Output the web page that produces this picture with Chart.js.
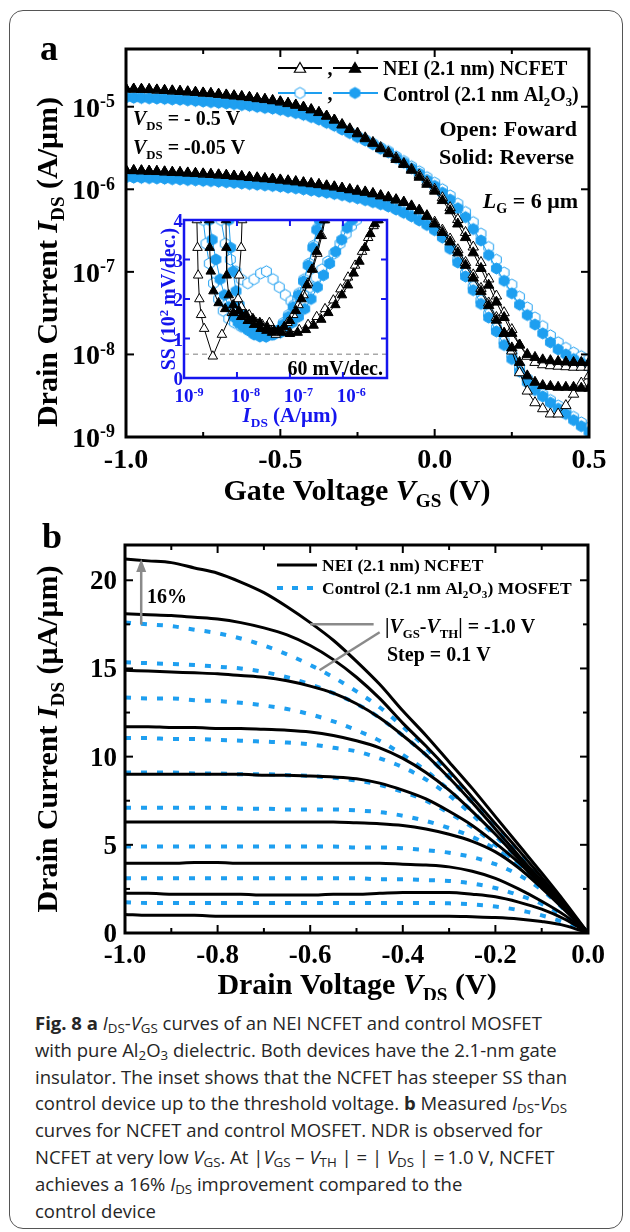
<!DOCTYPE html>
<html lang="en">
<head>
<meta charset="UTF-8">
<meta name="viewport" content="width=630">
<title>Fig. 8 — NEI NCFET and control MOSFET</title>
<script src="https://cdn.jsdelivr.net/npm/chart.js"></script>
<style>
  html, body { margin: 0; padding: 0; background: #fff; }
  #page { position: relative; width: 630px; height: 1232px; overflow: hidden; }
  #frame { position: absolute; left: 9px; top: 10px; width: 614px; height: 1219px; box-sizing: border-box;
           border: 1.5px solid #555; border-radius: 14px; }
  canvas { position: absolute; }
  #ivChart { left: 0; top: 0; }
  #ssChart { left: 100px; top: 200px; }
  #outChart { left: 0; top: 520px; }
  .caption { position: absolute; left: 35px; top: 1010px; font-family: "Open Sans", sans-serif;
             font-size: 18.5px; line-height: 26.8px; color: #262626; white-space: nowrap; }
  .caption sub { font-size: 0.72em; line-height: 0; vertical-align: -0.22em; }
</style>
</head>
<body>
<div id="page">
  <div id="frame"></div>
  <canvas id="ivChart" width="630" height="520"></canvas>
  <canvas id="ssChart" width="300" height="240"></canvas>
  <canvas id="outChart" width="630" height="480"></canvas>
  <div class="caption">
    <div><b>Fig. 8 a</b> <i>I</i><sub>DS</sub>-<i>V</i><sub>GS</sub> curves of an NEI NCFET and control MOSFET</div>
    <div>with pure Al<sub>2</sub>O<sub>3</sub> dielectric. Both devices have the 2.1-nm gate</div>
    <div>insulator. The inset shows that the NCFET has steeper SS than</div>
    <div>control device up to the threshold voltage. <b>b</b> Measured <i>I</i><sub>DS</sub>-<i>V</i><sub>DS</sub></div>
    <div>curves for NCFET and control MOSFET. NDR is observed for</div>
    <div>NCFET at very low <i>V</i><sub>GS</sub>. At |<i>V</i><sub>GS</sub> – <i>V</i><sub>TH</sub> | = | <i>V</i><sub>DS</sub> | =&#8201;1.0 V, NCFET</div>
    <div>achieves a 16% <i>I</i><sub>DS</sub> improvement compared to the</div>
    <div>control device</div>
  </div>
</div>

<script>
// ---------- (a) transfer curves, I_DS in A/um ----------
const vgs = [-1.0, -0.975, -0.95, -0.925, -0.9, -0.875, -0.85, -0.825, -0.8, -0.775,
  -0.75, -0.725, -0.7, -0.675, -0.65, -0.625, -0.6, -0.575, -0.55, -0.525,
  -0.5, -0.475, -0.45, -0.425, -0.4, -0.375, -0.35, -0.325, -0.3, -0.275,
  -0.25, -0.225, -0.2, -0.175, -0.15, -0.125, -0.1, -0.075, -0.05, -0.025,
  0, 0.025, 0.05, 0.075, 0.1, 0.125, 0.15, 0.175, 0.2, 0.225,
  0.25, 0.275, 0.3, 0.325, 0.35, 0.375, 0.4, 0.425, 0.45, 0.475, 0.5];

// NCFET, reverse sweep (solid), V_DS = -0.5 V
const ncRevHigh = [1.65e-5, 1.64e-5, 1.63e-5, 1.62e-5, 1.6e-5, 1.58e-5, 1.56e-5, 1.54e-5, 1.52e-5, 1.5e-5,
  1.47e-5, 1.45e-5, 1.42e-5, 1.39e-5, 1.36e-5, 1.33e-5, 1.3e-5, 1.26e-5, 1.23e-5, 1.19e-5,
  1.15e-5, 1.1e-5, 1.05e-5, 9.9e-6, 9.2e-6, 8.5e-6, 7.7e-6, 6.9e-6, 6.0e-6, 5.3e-6,
  4.7e-6, 4.1e-6, 3.6e-6, 3.1e-6, 2.7e-6, 2.3e-6, 2.0e-6, 1.7e-6, 1.4e-6, 1.15e-6,
  9.5e-7, 7.3e-7, 5.5e-7, 3.8e-7, 2.6e-7, 1.7e-7, 1.1e-7, 6.9e-8, 4.3e-8, 2.8e-8,
  1.8e-8, 1.3e-8, 1.0e-8, 9.2e-9, 8.6e-9, 8.4e-9, 8.2e-9, 8.1e-9, 8.0e-9, 8.0e-9, 8.0e-9];
// NCFET, forward sweep (open), V_DS = -0.5 V
const ncFwdHigh = [1.64e-5, 1.63e-5, 1.62e-5, 1.61e-5, 1.59e-5, 1.57e-5, 1.55e-5, 1.53e-5, 1.51e-5, 1.49e-5,
  1.46e-5, 1.44e-5, 1.41e-5, 1.38e-5, 1.35e-5, 1.32e-5, 1.29e-5, 1.25e-5, 1.22e-5, 1.18e-5,
  1.14e-5, 1.09e-5, 1.04e-5, 9.8e-6, 9.2e-6, 8.5e-6, 7.7e-6, 6.9e-6, 6.1e-6, 5.4e-6,
  4.8e-6, 4.2e-6, 3.7e-6, 3.2e-6, 2.8e-6, 2.4e-6, 2.05e-6, 1.75e-6, 1.48e-6, 1.22e-6,
  1.0e-6, 7.9e-7, 6.0e-7, 4.3e-7, 3.0e-7, 2.0e-7, 1.3e-7, 8.2e-8, 5.1e-8, 3.2e-8,
  2.0e-8, 1.3e-8, 9.5e-9, 8.0e-9, 7.5e-9, 7.3e-9, 7.2e-9, 7.1e-9, 7.0e-9, 7.0e-9, 7.0e-9];
// NCFET, reverse, V_DS = -0.05 V
const ncRevLow = [1.7e-6, 1.69e-6, 1.68e-6, 1.66e-6, 1.65e-6, 1.63e-6, 1.61e-6, 1.6e-6, 1.58e-6, 1.56e-6,
  1.54e-6, 1.52e-6, 1.5e-6, 1.48e-6, 1.45e-6, 1.43e-6, 1.4e-6, 1.38e-6, 1.35e-6, 1.33e-6,
  1.3e-6, 1.27e-6, 1.24e-6, 1.2e-6, 1.17e-6, 1.14e-6, 1.1e-6, 1.07e-6, 1.03e-6, 9.9e-7,
  9.5e-7, 9.2e-7, 8.8e-7, 8.3e-7, 7.9e-7, 7.4e-7, 6.9e-7, 6.2e-7, 5.5e-7, 4.7e-7,
  3.8e-7, 3.0e-7, 2.3e-7, 1.7e-7, 1.2e-7, 8.4e-8, 5.8e-8, 3.9e-8, 2.6e-8, 1.8e-8,
  1.2e-8, 8.0e-9, 5.5e-9, 4.6e-9, 4.2e-9, 4.1e-9, 4.0e-9, 4.0e-9, 4.0e-9, 3.9e-9, 3.9e-9];
// NCFET, forward, V_DS = -0.05 V
const ncFwdLow = [1.69e-6, 1.68e-6, 1.67e-6, 1.65e-6, 1.64e-6, 1.62e-6, 1.6e-6, 1.59e-6, 1.57e-6, 1.55e-6,
  1.53e-6, 1.51e-6, 1.49e-6, 1.47e-6, 1.44e-6, 1.42e-6, 1.39e-6, 1.37e-6, 1.34e-6, 1.32e-6,
  1.29e-6, 1.26e-6, 1.23e-6, 1.2e-6, 1.17e-6, 1.14e-6, 1.1e-6, 1.07e-6, 1.03e-6, 9.9e-7,
  9.6e-7, 9.3e-7, 8.9e-7, 8.4e-7, 8.0e-7, 7.5e-7, 7.0e-7, 6.3e-7, 5.6e-7, 4.8e-7,
  4.0e-7, 3.2e-7, 2.5e-7, 1.85e-7, 1.3e-7, 9.2e-8, 6.3e-8, 4.2e-8, 2.8e-8, 1.8e-8,
  1.1e-8, 6.0e-9, 3.6e-9, 2.6e-9, 2.2e-9, 1.9e-9, 1.9e-9, 2.4e-9, 3.3e-9, 4.5e-9, 5.5e-9];
// control Al2O3 MOSFET, reverse, V_DS = -0.5 V
const ctRevHigh = [1.3e-5, 1.29e-5, 1.28e-5, 1.27e-5, 1.26e-5, 1.25e-5, 1.23e-5, 1.22e-5, 1.2e-5, 1.18e-5,
  1.16e-5, 1.14e-5, 1.12e-5, 1.1e-5, 1.08e-5, 1.05e-5, 1.03e-5, 1.0e-5, 9.7e-6, 9.5e-6,
  9.2e-6, 8.8e-6, 8.4e-6, 8.0e-6, 7.5e-6, 7.0e-6, 6.4e-6, 5.9e-6, 5.3e-6, 4.8e-6,
  4.3e-6, 3.9e-6, 3.5e-6, 3.1e-6, 2.8e-6, 2.4e-6, 2.1e-6, 1.8e-6, 1.55e-6, 1.3e-6,
  1.1e-6, 9.1e-7, 7.5e-7, 5.9e-7, 4.6e-7, 3.3e-7, 2.4e-7, 1.6e-7, 1.1e-7, 7.8e-8,
  5.5e-8, 4.0e-8, 3.0e-8, 2.3e-8, 1.8e-8, 1.4e-8, 1.15e-8, 1.0e-8, 8.8e-9, 7.9e-9, 7.2e-9];
// control, forward, V_DS = -0.5 V
const ctFwdHigh = [1.31e-5, 1.3e-5, 1.29e-5, 1.28e-5, 1.27e-5, 1.26e-5, 1.24e-5, 1.23e-5, 1.21e-5, 1.19e-5,
  1.17e-5, 1.15e-5, 1.13e-5, 1.11e-5, 1.09e-5, 1.06e-5, 1.04e-5, 1.01e-5, 9.8e-6, 9.6e-6,
  9.3e-6, 8.9e-6, 8.5e-6, 8.1e-6, 7.6e-6, 7.1e-6, 6.5e-6, 6.0e-6, 5.4e-6, 4.9e-6,
  4.4e-6, 4.0e-6, 3.6e-6, 3.2e-6, 2.9e-6, 2.5e-6, 2.2e-6, 1.9e-6, 1.65e-6, 1.4e-6,
  1.2e-6, 1.0e-6, 8.4e-7, 6.7e-7, 5.3e-7, 4.0e-7, 2.9e-7, 2.0e-7, 1.4e-7, 9.8e-8,
  7.0e-8, 5.0e-8, 3.7e-8, 2.8e-8, 2.2e-8, 1.7e-8, 1.4e-8, 1.2e-8, 1.05e-8, 9.5e-9, 8.8e-9];
// control, reverse, V_DS = -0.05 V
const ctRevLow = [1.4e-6, 1.39e-6, 1.38e-6, 1.37e-6, 1.36e-6, 1.35e-6, 1.33e-6, 1.32e-6, 1.3e-6, 1.29e-6,
  1.27e-6, 1.26e-6, 1.24e-6, 1.22e-6, 1.2e-6, 1.18e-6, 1.16e-6, 1.14e-6, 1.12e-6, 1.1e-6,
  1.08e-6, 1.05e-6, 1.03e-6, 1.0e-6, 9.7e-7, 9.4e-7, 9.1e-7, 8.8e-7, 8.5e-7, 8.1e-7,
  7.8e-7, 7.4e-7, 7.0e-7, 6.6e-7, 6.2e-7, 5.7e-7, 5.2e-7, 4.7e-7, 4.2e-7, 3.7e-7,
  3.2e-7, 2.6e-7, 1.9e-7, 1.3e-7, 8.8e-8, 6.0e-8, 4.1e-8, 2.8e-8, 1.9e-8, 1.3e-8,
  8.8e-9, 6.2e-9, 4.6e-9, 3.7e-9, 3.1e-9, 2.6e-9, 2.2e-9, 1.9e-9, 1.6e-9, 1.35e-9, 1.15e-9];
// control, forward, V_DS = -0.05 V
const ctFwdLow = [1.41e-6, 1.4e-6, 1.39e-6, 1.38e-6, 1.37e-6, 1.36e-6, 1.34e-6, 1.33e-6, 1.31e-6, 1.3e-6,
  1.28e-6, 1.27e-6, 1.25e-6, 1.23e-6, 1.21e-6, 1.19e-6, 1.17e-6, 1.15e-6, 1.13e-6, 1.11e-6,
  1.09e-6, 1.06e-6, 1.04e-6, 1.01e-6, 9.8e-7, 9.5e-7, 9.2e-7, 8.9e-7, 8.6e-7, 8.2e-7,
  7.9e-7, 7.5e-7, 7.1e-7, 6.7e-7, 6.3e-7, 5.8e-7, 5.3e-7, 4.8e-7, 4.3e-7, 3.8e-7,
  3.3e-7, 2.7e-7, 2.0e-7, 1.4e-7, 9.6e-8, 6.6e-8, 4.5e-8, 3.1e-8, 2.1e-8, 1.45e-8,
  1.0e-8, 7.0e-9, 5.1e-9, 4.0e-9, 3.3e-9, 2.8e-9, 2.4e-9, 2.0e-9, 1.75e-9, 1.5e-9, 1.3e-9];

const vgsMajor = [-1, -0.5, 0, 0.5];
const vgsLabels = ['-1.0', '-0.5', '0.0', '0.5'];
const vgsMinor = [-0.75, -0.25, 0.25];
const idsDecades = [1e-9, 1e-8, 1e-7, 1e-6, 1e-5];
const idsExponents = ['-9', '-8', '-7', '-6', '-5'];

// ---------- inset: SS (x100 mV/dec) against I_DS ----------
const ssNcFwdLow = [[1.75e-9, 4.0], [1.8e-9, 3.3], [1.85e-9, 2.6], [1.95e-9, 2.0], [2.1e-9, 1.6], [2.4e-9, 1.25],
  [3.5e-9, 0.55], [5.2e-9, 1.1], [8e-9, 1.65], [1.2e-8, 1.8], [1.7e-8, 1.6], [2.3e-8, 1.4], [3.1e-8, 1.25],
  [4.1e-8, 1.4], [5.4e-8, 1.1], [7e-8, 1.2], [9e-8, 1.4], [1.15e-7, 1.6], [1.45e-7, 1.85], [1.8e-7, 2.1],
  [2.2e-7, 2.4], [2.7e-7, 2.75], [3.3e-7, 3.15], [4e-7, 3.6], [4.6e-7, 4.0]];
const ssNcRevLow = [[3.0e-9, 4.0], [3.05e-9, 3.3], [3.2e-9, 2.7], [3.6e-9, 2.2], [4.5e-9, 1.9], [6e-9, 1.75],
  [8.5e-9, 1.65], [1.2e-8, 1.55], [1.6e-8, 1.45], [2.1e-8, 1.35], [2.8e-8, 1.25], [3.6e-8, 1.2], [4.6e-8, 1.15],
  [6e-8, 1.2], [7.8e-8, 1.3], [1.0e-7, 1.45], [1.3e-7, 1.7], [1.65e-7, 2.0], [2.1e-7, 2.35], [2.6e-7, 2.75],
  [3.2e-7, 3.2], [3.8e-7, 3.6], [4.4e-7, 4.0]];
const ssNcFwdHigh = [[1.25e-8, 4.0], [1.2e-8, 3.3], [1.1e-8, 2.6], [1.05e-8, 2.0], [1.1e-8, 1.7], [1.4e-8, 1.55],
  [2e-8, 1.45], [3e-8, 1.35], [4.5e-8, 1.3], [7e-8, 1.2], [1.0e-7, 1.15], [1.5e-7, 1.22], [2.2e-7, 1.35],
  [3.2e-7, 1.55], [4.6e-7, 1.75], [6.6e-7, 1.97], [9e-7, 2.25], [1.25e-6, 2.55], [1.7e-6, 2.85],
  [2.3e-6, 3.2], [3.0e-6, 3.55], [3.8e-6, 3.85], [4.4e-6, 4.0]];
const ssNcRevHigh = [[6.2e-9, 4.0], [6.3e-9, 3.3], [6.4e-9, 2.6], [7e-9, 2.1], [8.5e-9, 1.85], [1.1e-8, 1.7],
  [1.5e-8, 1.6], [2e-8, 1.5], [2.7e-8, 1.4], [3.7e-8, 1.3], [5e-8, 1.2], [7e-8, 1.15], [1e-7, 1.12],
  [1.4e-7, 1.15], [2e-7, 1.22], [2.8e-7, 1.33], [3.9e-7, 1.48], [5.3e-7, 1.65], [7.2e-7, 1.85],
  [9.6e-7, 2.1], [1.25e-6, 2.35], [1.6e-6, 2.65], [2.05e-6, 2.95], [2.6e-6, 3.3], [3.3e-6, 3.65],
  [4.0e-6, 3.9], [4.7e-6, 4.0]];
const ssCtFwdLow = [[2.3e-9, 4.0], [2.6e-9, 3.4], [3.0e-9, 2.9], [3.6e-9, 2.4], [4.5e-9, 2.0], [5.5e-9, 1.7],
  [7e-9, 1.5], [9e-9, 1.4], [1.2e-8, 1.3], [1.6e-8, 1.25], [2.1e-8, 1.15], [2.8e-8, 1.1], [3.6e-8, 1.05],
  [4.7e-8, 1.1], [6e-8, 1.2], [7.6e-8, 1.4], [9.5e-8, 1.6], [1.2e-7, 1.85], [1.5e-7, 2.15], [1.85e-7, 2.5],
  [2.3e-7, 2.9], [2.8e-7, 3.35], [3.4e-7, 3.8], [3.8e-7, 4.0]];
const ssCtRevLow = [[3.0e-9, 4.0], [3.4e-9, 3.5], [4.0e-9, 3.0], [4.8e-9, 2.5], [5.8e-9, 2.1], [7e-9, 1.8],
  [8.6e-9, 1.55], [1.05e-8, 1.4], [1.3e-8, 1.3], [1.65e-8, 1.2], [2.1e-8, 1.1], [2.7e-8, 1.05], [3.5e-8, 1.05],
  [4.5e-8, 1.1], [5.8e-8, 1.2], [7.4e-8, 1.35], [9.3e-8, 1.55], [1.15e-7, 1.8], [1.45e-7, 2.1], [1.8e-7, 2.45],
  [2.2e-7, 2.85], [2.7e-7, 3.3], [3.2e-7, 3.75], [3.6e-7, 4.0]];
const ssCtFwdHigh = [[5e-9, 4.0], [6e-9, 3.4], [7.5e-9, 3.0], [9.5e-9, 2.7], [1.2e-8, 2.5], [1.6e-8, 2.4],
  [2.1e-8, 2.5], [2.8e-8, 2.65], [3.6e-8, 2.7], [4.8e-8, 2.5], [6.3e-8, 2.3], [8.2e-8, 2.1], [1.05e-7, 1.95],
  [1.4e-7, 2.0], [1.8e-7, 2.1], [2.4e-7, 2.3], [3.1e-7, 2.55], [4e-7, 2.75], [5.2e-7, 2.95], [6.8e-7, 3.15],
  [8.8e-7, 3.4], [1.15e-6, 3.65], [1.45e-6, 3.85], [1.8e-6, 4.0]];
const ssCtRevHigh = [[7e-9, 4.0], [7.6e-9, 3.3], [8.4e-9, 2.7], [9.6e-9, 2.2], [1.1e-8, 1.85], [1.35e-8, 1.6],
  [1.7e-8, 1.4], [2.2e-8, 1.25], [2.9e-8, 1.15], [3.8e-8, 1.1], [5e-8, 1.1], [6.6e-8, 1.15], [8.6e-8, 1.25],
  [1.1e-7, 1.4], [1.45e-7, 1.55], [1.9e-7, 1.75], [2.5e-7, 2.0], [3.3e-7, 2.3], [4.3e-7, 2.6], [5.6e-7, 2.9],
  [7.3e-7, 3.2], [9.5e-7, 3.5], [1.2e-6, 3.8], [1.5e-6, 4.0]];

const ssDecades = [1e-9, 1e-8, 1e-7, 1e-6];
const ssExponents = ['-9', '-8', '-7', '-6'];
const ssTicks = [0, 1, 2, 3, 4];
const ssIdeal = 0.6;   // 60 mV/dec

// ---------- (b) output curves, I_DS in uA/um ----------
const vds = [-1.0, -0.95, -0.9, -0.85, -0.8, -0.75, -0.7, -0.65, -0.6, -0.55, -0.5,
  -0.45, -0.4, -0.35, -0.3, -0.25, -0.2, -0.15, -0.1, -0.05, 0];
// NCFET, |V_GS - V_TH| = 1.0 V down in 0.1 V steps
const ncfetOutput = [
  [21.2, 21.1, 21.0, 20.7, 20.4, 19.9, 19.3, 18.5, 17.6, 16.6, 15.4, 14.1, 12.6, 11.2, 9.7, 8.2, 6.6, 5.0, 3.4, 1.75, 0],
  [18.1, 18.05, 18.0, 17.9, 17.8, 17.6, 17.3, 16.9, 16.3, 15.5, 14.5, 13.3, 11.9, 10.6, 9.2, 7.7, 6.2, 4.7, 3.15, 1.6, 0],
  [14.9, 14.85, 14.8, 14.75, 14.7, 14.6, 14.5, 14.3, 14.0, 13.6, 13.0, 12.2, 11.2, 10.1, 8.8, 7.4, 5.9, 4.4, 2.95, 1.5, 0],
  [11.7, 11.7, 11.65, 11.65, 11.6, 11.6, 11.55, 11.5, 11.4, 11.2, 10.9, 10.5, 9.9, 9.1, 8.1, 6.9, 5.6, 4.2, 2.8, 1.42, 0],
  [9.0, 9.0, 9.0, 9.0, 9.0, 9.0, 8.95, 8.95, 8.9, 8.85, 8.75, 8.5, 8.1, 7.6, 6.9, 6.1, 5.1, 4.0, 2.7, 1.38, 0],
  [6.3, 6.3, 6.3, 6.3, 6.3, 6.3, 6.3, 6.3, 6.3, 6.3, 6.25, 6.2, 6.1, 5.9, 5.6, 5.2, 4.6, 3.7, 2.55, 1.3, 0],
  [3.95, 3.95, 3.95, 4.0, 4.0, 3.95, 3.95, 3.95, 3.95, 3.95, 3.95, 3.95, 3.9, 3.85, 3.75, 3.5, 3.1, 2.5, 1.8, 1.0, 0],
  [2.25, 2.25, 2.2, 2.2, 2.2, 2.2, 2.15, 2.15, 2.15, 2.2, 2.2, 2.25, 2.3, 2.3, 2.3, 2.2, 2.05, 1.75, 1.35, 0.78, 0],
  [1.05, 1.0, 1.0, 1.0, 0.95, 0.95, 0.95, 0.95, 0.95, 0.95, 0.95, 0.95, 0.95, 0.95, 0.95, 0.92, 0.88, 0.8, 0.65, 0.42, 0]
];
// control MOSFET, same V_GS steps
const controlOutput = [
  [17.6, 17.5, 17.4, 17.2, 17.0, 16.7, 16.3, 15.8, 15.2, 14.5, 13.7, 12.8, 11.7, 10.5, 9.1, 7.6, 6.1, 4.6, 3.1, 1.55, 0],
  [15.35, 15.3, 15.25, 15.2, 15.1, 15.0, 14.8, 14.5, 14.1, 13.6, 13.0, 12.2, 11.2, 10.1, 8.8, 7.4, 6.0, 4.5, 3.0, 1.5, 0],
  [13.35, 13.3, 13.3, 13.2, 13.15, 13.05, 12.9, 12.7, 12.4, 12.0, 11.5, 10.9, 10.1, 9.2, 8.1, 6.9, 5.6, 4.3, 2.9, 1.45, 0],
  [11.05, 11.05, 11.0, 11.0, 10.95, 10.9, 10.85, 10.8, 10.7, 10.5, 10.3, 9.9, 9.4, 8.7, 7.8, 6.7, 5.5, 4.2, 2.8, 1.4, 0],
  [9.1, 9.1, 9.1, 9.05, 9.05, 9.0, 9.0, 8.95, 8.9, 8.8, 8.65, 8.4, 8.0, 7.5, 6.8, 6.0, 5.0, 3.9, 2.7, 1.38, 0],
  [7.1, 7.1, 7.1, 7.1, 7.1, 7.05, 7.05, 7.0, 7.0, 7.0, 6.95, 6.85, 6.65, 6.35, 5.95, 5.45, 4.75, 3.85, 2.65, 1.35, 0],
  [4.9, 4.9, 4.9, 4.9, 4.9, 4.9, 4.9, 4.9, 4.9, 4.9, 4.85, 4.85, 4.8, 4.7, 4.55, 4.3, 3.9, 3.3, 2.45, 1.3, 0],
  [3.1, 3.1, 3.1, 3.1, 3.1, 3.1, 3.1, 3.1, 3.1, 3.1, 3.1, 3.05, 3.05, 3.0, 2.95, 2.8, 2.55, 2.15, 1.65, 0.92, 0],
  [1.75, 1.7, 1.7, 1.7, 1.7, 1.7, 1.7, 1.7, 1.7, 1.7, 1.7, 1.7, 1.7, 1.7, 1.68, 1.62, 1.5, 1.3, 1.0, 0.58, 0]
];

const vdsMajor = [-1, -0.8, -0.6, -0.4, -0.2, 0];
const vdsLabels = ['-1.0', '-0.8', '-0.6', '-0.4', '-0.2', '0.0'];
const vdsMinor = [-0.9, -0.7, -0.5, -0.3, -0.1];
const idMajor = [0, 5, 10, 15, 20];
const idLabels = ['0', '5', '10', '15', '20'];
const idMinor = [2.5, 7.5, 12.5, 17.5];

// ---------- drawing helpers ----------
const SERIF = '"Liberation Serif", "Times New Roman", serif';
const INK = '#000';
const BLUE = '#1e9ff0';
const INSET_BLUE = '#1515ee';
const GREY = '#8a8a8a';

// runs of [text, kind]: n = upright, i = italic, b = subscript, p = superscript
function rich(ctx, parts, x, y, size, align, color) {
  const runs = parts.map(([t, k = 'n']) => {
    const small = k === 'b' || k === 'p';
    const sz = small ? size * 0.64 : size;
    const font = (k === 'i' ? 'italic ' : '') + 'bold ' + sz.toFixed(1) + 'px ' + SERIF;
    ctx.font = font;
    return { t, font, w: ctx.measureText(t).width, dy: k === 'b' ? size * 0.24 : k === 'p' ? -size * 0.34 : 0 };
  });
  const total = runs.reduce((s, r) => s + r.w, 0);
  let cx = align === 'center' ? x - total / 2 : align === 'right' ? x - total : x;
  ctx.fillStyle = color || INK;
  ctx.textAlign = 'left';
  ctx.textBaseline = 'alphabetic';
  runs.forEach(r => { ctx.font = r.font; ctx.fillText(r.t, cx, y + r.dy); cx += r.w; });
  return total;
}

function richUp(ctx, parts, x, y, size, color) {
  ctx.save();
  ctx.translate(x, y);
  ctx.rotate(-Math.PI / 2);
  rich(ctx, parts, 0, 0, size, 'center', color);
  ctx.restore();
}

function seg(ctx, x1, y1, x2, y2) {
  ctx.beginPath(); ctx.moveTo(x1, y1); ctx.lineTo(x2, y2); ctx.stroke();
}

// inward ticks on all four sides plus the box
function boxAndTicks(chart, xt, yt, color, lw) {
  const { ctx, chartArea: a, scales: { x, y } } = chart;
  ctx.save();
  ctx.strokeStyle = color;
  ctx.lineWidth = 2;
  xt.forEach(([v, len]) => {
    const p = x.getPixelForValue(v);
    seg(ctx, p, a.bottom, p, a.bottom - len);
    seg(ctx, p, a.top, p, a.top + len);
  });
  yt.forEach(([v, len]) => {
    const p = y.getPixelForValue(v);
    seg(ctx, a.left, p, a.left + len, p);
    seg(ctx, a.right, p, a.right - len, p);
  });
  ctx.lineWidth = lw;
  ctx.strokeRect(a.left, a.top, a.right - a.left, a.bottom - a.top);
  ctx.restore();
}

function hexMarker(fill, stroke, r) {
  const c = document.createElement('canvas');
  const s = Math.ceil(2 * r + 3);
  c.width = s; c.height = s;
  const g = c.getContext('2d');
  g.beginPath();
  for (let k = 0; k < 6; k++) {
    const ang = -Math.PI / 2 + k * Math.PI / 3;
    g.lineTo(s / 2 + r * Math.cos(ang), s / 2 + r * Math.sin(ang));
  }
  g.closePath();
  g.fillStyle = fill; g.fill();
  g.lineWidth = 1; g.strokeStyle = stroke; g.stroke();
  return c;
}
const hexOpen = hexMarker('#fff', BLUE, 5.6);
const hexSolid = hexMarker(BLUE, BLUE, 5.6);

function triangle(ctx, cx, cy, r, filled) {
  ctx.beginPath();
  for (let k = 0; k < 3; k++) {
    const ang = -Math.PI / 2 + k * 2 * Math.PI / 3;
    ctx.lineTo(cx + r * Math.cos(ang), cy + r * Math.sin(ang));
  }
  ctx.closePath();
  ctx.fillStyle = filled ? INK : '#fff'; ctx.fill();
  ctx.lineWidth = 1.2; ctx.strokeStyle = INK; ctx.stroke();
}

const triOpen = { pointStyle: 'triangle', pointRadius: 6, pointBorderWidth: 1, pointBackgroundColor: '#fff',
  pointBorderColor: INK, borderColor: INK, borderWidth: 1 };
const triSolid = { pointStyle: 'triangle', pointRadius: 6, pointBorderWidth: 1, pointBackgroundColor: INK,
  pointBorderColor: INK, borderColor: INK, borderWidth: 1 };
const hexOpenStyle = { pointStyle: hexOpen, pointRadius: 5, borderColor: BLUE, borderWidth: 1 };
const hexSolidStyle = { pointStyle: hexSolid, pointRadius: 5, borderColor: BLUE, borderWidth: 1 };

const common = { responsive: false, animation: false, events: [], devicePixelRatio: 1,
  plugins: { legend: { display: false }, tooltip: { enabled: false } } };

// ---------- panel a ----------
function ivSeries(values, style, order) {
  return { data: vgs.map((v, i) => ({ x: v, y: values[i] })), order, ...style };
}

const panelA = {
  id: 'panelA',
  afterDraw(chart) {
    const { ctx, chartArea: a, scales: { x, y } } = chart;
    boxAndTicks(chart,
      [...vgsMajor.map(v => [v, 8]), ...vgsMinor.map(v => [v, 5])],
      idsDecades.map(v => [v, 8]), INK, 3);

    vgsMajor.forEach((v, i) => rich(ctx, [[vgsLabels[i]]], x.getPixelForValue(v), a.bottom + 31, 28, 'center'));
    idsDecades.forEach((v, i) =>
      rich(ctx, [['10'], [idsExponents[i], 'p']], a.left - 11, y.getPixelForValue(v) + 10, 28, 'right'));

    rich(ctx, [['Gate Voltage '], ['V', 'i'], ['GS', 'b'], [' (V)']], 357, a.bottom + 63, 30, 'center');
    richUp(ctx, [['Drain Current '], ['I', 'i'], ['DS', 'b'], [' (A/μm)']], 57, 262, 30);
    rich(ctx, [['a']], 40, 60, 36, 'left');

    // legend
    ctx.save();
    [[68, false], [93, true]].forEach(([ly, isCtrl]) => {
      ctx.strokeStyle = isCtrl ? BLUE : INK;
      ctx.lineWidth = 2;
      seg(ctx, 278, ly, 322, ly);
      seg(ctx, 333, ly, 378, ly);
      if (isCtrl) {
        ctx.drawImage(hexOpen, 300 - hexOpen.width / 2, ly - hexOpen.height / 2);
        ctx.drawImage(hexSolid, 355 - hexSolid.width / 2, ly - hexSolid.height / 2);
      } else {
        triangle(ctx, 300, ly + 1, 6.5, false);
        triangle(ctx, 355, ly + 1, 6.5, true);
      }
      rich(ctx, [[',']], 330, ly + 7, 20, 'center');
    });
    ctx.restore();
    rich(ctx, [['NEI (2.1 nm) NCFET']], 383, 75, 20, 'left');
    rich(ctx, [['Control (2.1 nm Al'], ['2', 'b'], ['O'], ['3', 'b'], [')']], 383, 101, 20, 'left');

    rich(ctx, [['V', 'i'], ['DS', 'b'], [' = - 0.5 V']], 133, 125, 20, 'left');
    rich(ctx, [['V', 'i'], ['DS', 'b'], [' = -0.05 V']], 133, 154, 20, 'left');
    rich(ctx, [['Open: Foward']], 577, 136, 22, 'right');
    rich(ctx, [['Solid: Reverse']], 574, 164, 22, 'right');
    rich(ctx, [['L', 'i'], ['G', 'b'], [' = 6 μm']], 578, 208, 22, 'right');
  }
};

new Chart(document.getElementById('ivChart'), {
  type: 'line',
  data: {
    datasets: [
      ivSeries(ncRevHigh, triSolid, 0), ivSeries(ncRevLow, triSolid, 0),
      ivSeries(ncFwdHigh, triOpen, 1), ivSeries(ncFwdLow, triOpen, 1),
      ivSeries(ctRevHigh, hexSolidStyle, 2), ivSeries(ctRevLow, hexSolidStyle, 2),
      ivSeries(ctFwdHigh, hexOpenStyle, 3), ivSeries(ctFwdLow, hexOpenStyle, 3)
    ]
  },
  options: {
    ...common,
    layout: { padding: { left: 126, top: 49, right: 41, bottom: 83 } },
    scales: {
      x: { type: 'linear', min: -1, max: 0.5, display: false },
      y: { type: 'logarithmic', min: 1e-9, max: 5e-5, display: false }
    }
  },
  plugins: [panelA]
});

// ---------- inset ----------
function ssSeries(pairs, style, order) {
  return { data: pairs.map(([i, s]) => ({ x: i, y: s })), order, ...style, pointRadius: 5.5 };
}

const insetDeco = {
  id: 'insetDeco',
  beforeDatasetsDraw(chart) {
    const { ctx, chartArea: a, scales: { y } } = chart;
    ctx.save();
    ctx.strokeStyle = '#a8a8a8';
    ctx.lineWidth = 1.5;
    ctx.setLineDash([5, 4]);
    const py = y.getPixelForValue(ssIdeal);
    seg(ctx, a.left, py, a.right, py);
    ctx.restore();
  },
  afterDraw(chart) {
    const { ctx, chartArea: a, scales: { x, y } } = chart;
    boxAndTicks(chart, ssDecades.map(v => [v, 6]), ssTicks.map(v => [v, 6]), INSET_BLUE, 2.5);
    ctx.font = 'bold 19px ' + SERIF;
    ssDecades.forEach((v, i) => {
      const px = x.getPixelForValue(v);
      const w = ctx.measureText('10').width;
      rich(ctx, [['10'], [ssExponents[i], 'p']], px - w / 2, a.bottom + 24, 19, 'left', INSET_BLUE);
    });
    ssTicks.forEach(v => rich(ctx, [[String(v)]], a.left - 1, y.getPixelForValue(v) + 7, 19, 'right', INSET_BLUE));
    rich(ctx, [['I', 'i'], ['DS', 'b'], [' (A/μm)']], 190, a.bottom + 44, 21, 'center', INSET_BLUE);
    richUp(ctx, [['SS (10'], ['2', 'p'], [' mV/dec.)']], a.left - 9, (a.top + a.bottom) / 2, 20, INSET_BLUE);
    rich(ctx, [['60 mV/dec.']], a.right - 4, a.bottom - 3, 20, 'right');
  }
};

new Chart(document.getElementById('ssChart'), {
  type: 'line',
  data: {
    datasets: [
      ssSeries(ssNcRevLow, triSolid, 0), ssSeries(ssNcRevHigh, triSolid, 0),
      ssSeries(ssNcFwdLow, triOpen, 1), ssSeries(ssNcFwdHigh, triOpen, 1),
      ssSeries(ssCtRevLow, hexSolidStyle, 2), ssSeries(ssCtRevHigh, hexSolidStyle, 2),
      ssSeries(ssCtFwdLow, hexOpenStyle, 3), ssSeries(ssCtFwdHigh, hexOpenStyle, 3)
    ]
  },
  options: {
    ...common,
    layout: { padding: { left: 84, top: 20, right: 13, bottom: 62 } },
    scales: {
      x: { type: 'logarithmic', min: 1e-9, max: 6.8e-6, display: false },
      y: { type: 'linear', min: 0, max: 4, display: false }
    }
  },
  plugins: [insetDeco]
});

// ---------- panel b ----------
const panelB = {
  id: 'panelB',
  afterDraw(chart) {
    const { ctx, chartArea: a, scales: { x, y } } = chart;
    const px = v => x.getPixelForValue(v);
    const py = v => y.getPixelForValue(v);

    // 16 % arrow and the |VGS-VTH| pointer
    ctx.save();
    ctx.strokeStyle = GREY;
    ctx.fillStyle = GREY;
    ctx.lineWidth = 2.5;
    const ax = px(-0.965);
    const tip = py(ncfetOutput[0][0]);
    seg(ctx, ax, py(controlOutput[0][0]) + 2, ax, tip + 10);
    ctx.beginPath();
    ctx.moveTo(ax, tip); ctx.lineTo(ax - 5, tip + 13); ctx.lineTo(ax + 5, tip + 13);
    ctx.closePath(); ctx.fill();
    seg(ctx, px(-0.6), py(17.5), px(-0.463), py(17.5));
    seg(ctx, px(-0.45), py(17.05), px(-0.58), py(14.9));
    ctx.restore();

    boxAndTicks(chart,
      [...vdsMajor.map(v => [v, 8]), ...vdsMinor.map(v => [v, 5])],
      [...idMajor.map(v => [v, 8]), ...idMinor.map(v => [v, 5])], INK, 3);

    vdsMajor.forEach((v, i) => rich(ctx, [[vdsLabels[i]]], px(v), a.bottom + 30, 27, 'center'));
    idMajor.forEach((v, i) => rich(ctx, [[idLabels[i]]], a.left - 8, py(v) + 9, 27, 'right'));

    rich(ctx, [['Drain Voltage '], ['V', 'i'], ['DS', 'b'], [' (V)']], 357, a.bottom + 61, 30, 'center');
    richUp(ctx, [['Drain Current '], ['I', 'i'], ['DS', 'b'], [' (μA/μm)']], 57, (a.top + a.bottom) / 2, 30);
    rich(ctx, [['b']], 42, 28, 36, 'left');

    // legend
    ctx.save();
    ctx.lineWidth = 3; ctx.strokeStyle = INK;
    seg(ctx, 277, 45, 317, 45);
    ctx.lineWidth = 4; ctx.strokeStyle = BLUE; ctx.setLineDash([6, 9]);
    seg(ctx, 277, 68, 317, 68);
    ctx.restore();
    rich(ctx, [['NEI (2.1 nm) NCFET']], 322, 51, 17.5, 'left');
    rich(ctx, [['Control (2.1 nm Al'], ['2', 'b'], ['O'], ['3', 'b'], [') MOSFET']], 322, 74, 17.5, 'left');

    rich(ctx, [['|'], ['V', 'i'], ['GS', 'b'], ['-'], ['V', 'i'], ['TH', 'b'], ['| = -1.0 V']], 385, 113, 20, 'left');
    rich(ctx, [['Step = 0.1 V']], 387, 141, 20, 'left');
    rich(ctx, [['16%']], 147, 83, 20, 'left');
  }
};

const outSets = [];
controlOutput.forEach(row => outSets.push({
  data: vds.map((v, i) => ({ x: v, y: row[i] })), borderColor: BLUE, borderWidth: 4,
  borderDash: [6, 10], borderCapStyle: 'butt', pointRadius: 0, cubicInterpolationMode: 'monotone', order: 2
}));
ncfetOutput.forEach(row => outSets.push({
  data: vds.map((v, i) => ({ x: v, y: row[i] })), borderColor: INK, borderWidth: 3,
  pointRadius: 0, cubicInterpolationMode: 'monotone', order: 1
}));

new Chart(document.getElementById('outChart'), {
  type: 'line',
  data: { datasets: outSets },
  options: {
    ...common,
    layout: { padding: { left: 125, top: 25, right: 42, bottom: 67 } },
    scales: {
      x: { type: 'linear', min: -1, max: 0, display: false },
      y: { type: 'linear', min: 0, max: 22, display: false }
    }
  },
  plugins: [panelB]
});
</script>
</body>
</html>
